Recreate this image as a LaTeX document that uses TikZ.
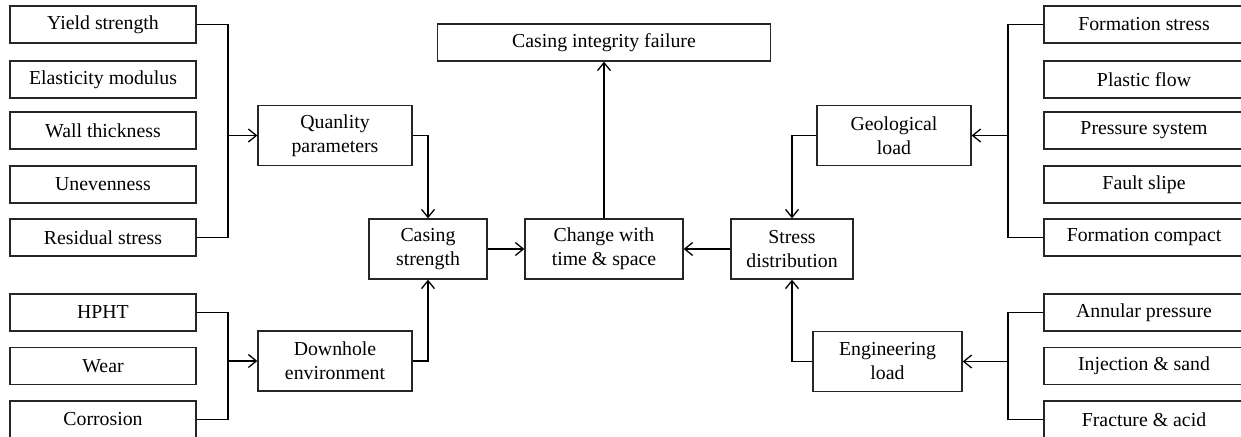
\documentclass[tikz,border=0pt]{standalone}
\usepackage{fontspec}
\setmainfont{Liberation Serif}
\usetikzlibrary{arrows.meta}
\begin{document}
\begin{tikzpicture}[x=1pt, y=-1pt, line width=1.3pt,
  box/.style={draw=black!85, align=center, inner sep=0pt,
    font=\fontsize{19.8}{24}\selectfont},
  leaf/.style={box, minimum height=37pt},
  lleaf/.style={leaf, minimum width=186pt},
  rleaf/.style={leaf, minimum width=200pt},
  mid/.style={box, minimum height=60pt},
  >={Straight Barb[length=8pt,width=13pt]}]
  \useasboundingbox (0,0) rectangle (1241,436);
  \clip (0,0) rectangle (1241,436);
  % left column
  \node[lleaf] (yield) at (103,24.5) {Yield strength};
  \node[lleaf] (elast) at (103,79.5) {Elasticity modulus};
  \node[lleaf] (wall) at (103,130.5) {Wall thickness};
  \node[lleaf] (uneven) at (103,184.5) {Unevenness};
  \node[lleaf] (resid) at (103,237.5) {Residual stress};
  \node[lleaf] (hpht) at (103,312.5) {HPHT};
  \node[lleaf] (wear) at (103,366) {Wear};
  \node[lleaf] (corr) at (103,419.5) {Corrosion};
  % right column
  \node[rleaf] (fstress) at (1144,24.5) {Formation stress};
  \node[rleaf] (plastic) at (1144,79.5) {Plastic flow};
  \node[rleaf] (press) at (1144,130.5) {Pressure system};
  \node[rleaf] (fault) at (1144,184.5) {Fault slipe};
  \node[rleaf] (fcomp) at (1144,237.5) {Formation compact};
  \node[rleaf] (annul) at (1144,312.5) {Annular pressure};
  \node[rleaf] (inject) at (1144,366) {Injection \& sand};
  \node[rleaf] (frac) at (1144,419.5) {Fracture \& acid};
  % middle
  \node[mid, minimum width=154pt] (qual) at (335,135.5) {Quanlity\\parameters};
  \node[mid, minimum width=154pt] (down) at (335,361) {Downhole\\environment};
  \node[mid, minimum width=118pt] (cstr) at (428,249) {Casing\\strength};
  \node[mid, minimum width=158pt] (chg) at (604,249) {Change with\\time \& space};
  \node[mid, minimum width=122pt] (sdist) at (792,249) {Stress\\distribution};
  \node[mid, minimum width=154pt] (geo) at (894,135.5) {Geological\\load};
  \node[mid, minimum width=149pt] (eng) at (887.5,361.5) {Engineering\\load};
  \node[leaf, minimum width=333pt] (fail) at (604,42.5) {Casing integrity failure};
  \coordinate (lfa) at (228,135.5);
  \coordinate (lfb) at (228,361);
  \coordinate (rfa) at (1008,135.5);
  \coordinate (rfb) at (1008,361.5);
  \draw (yield.east) -| (lfa) |- (resid.east);
  \draw[->] (lfa) -- (qual.west);
  \draw (hpht.east) -| (lfb) |- (corr.east);
  \draw[->] (lfb) -- (down.west);
  \draw (fstress.west) -| (rfa) |- (fcomp.west);
  \draw[->] (rfa) -- (geo.east);
  \draw (annul.west) -| (rfb) |- (frac.west);
  \draw[->] (rfb) -- (eng.east);
  \draw[->] (qual.east) -| (cstr.north);
  \draw[->] (down.east) -| (cstr.south);
  \draw[->] (geo.west) -| (sdist.north);
  \draw[->] (eng.west) -| (sdist.south);
  \draw[->] (cstr) -- (chg);
  \draw[->] (sdist) -- (chg);
  \draw[->] (chg) -- (fail);
\end{tikzpicture}
\end{document}
